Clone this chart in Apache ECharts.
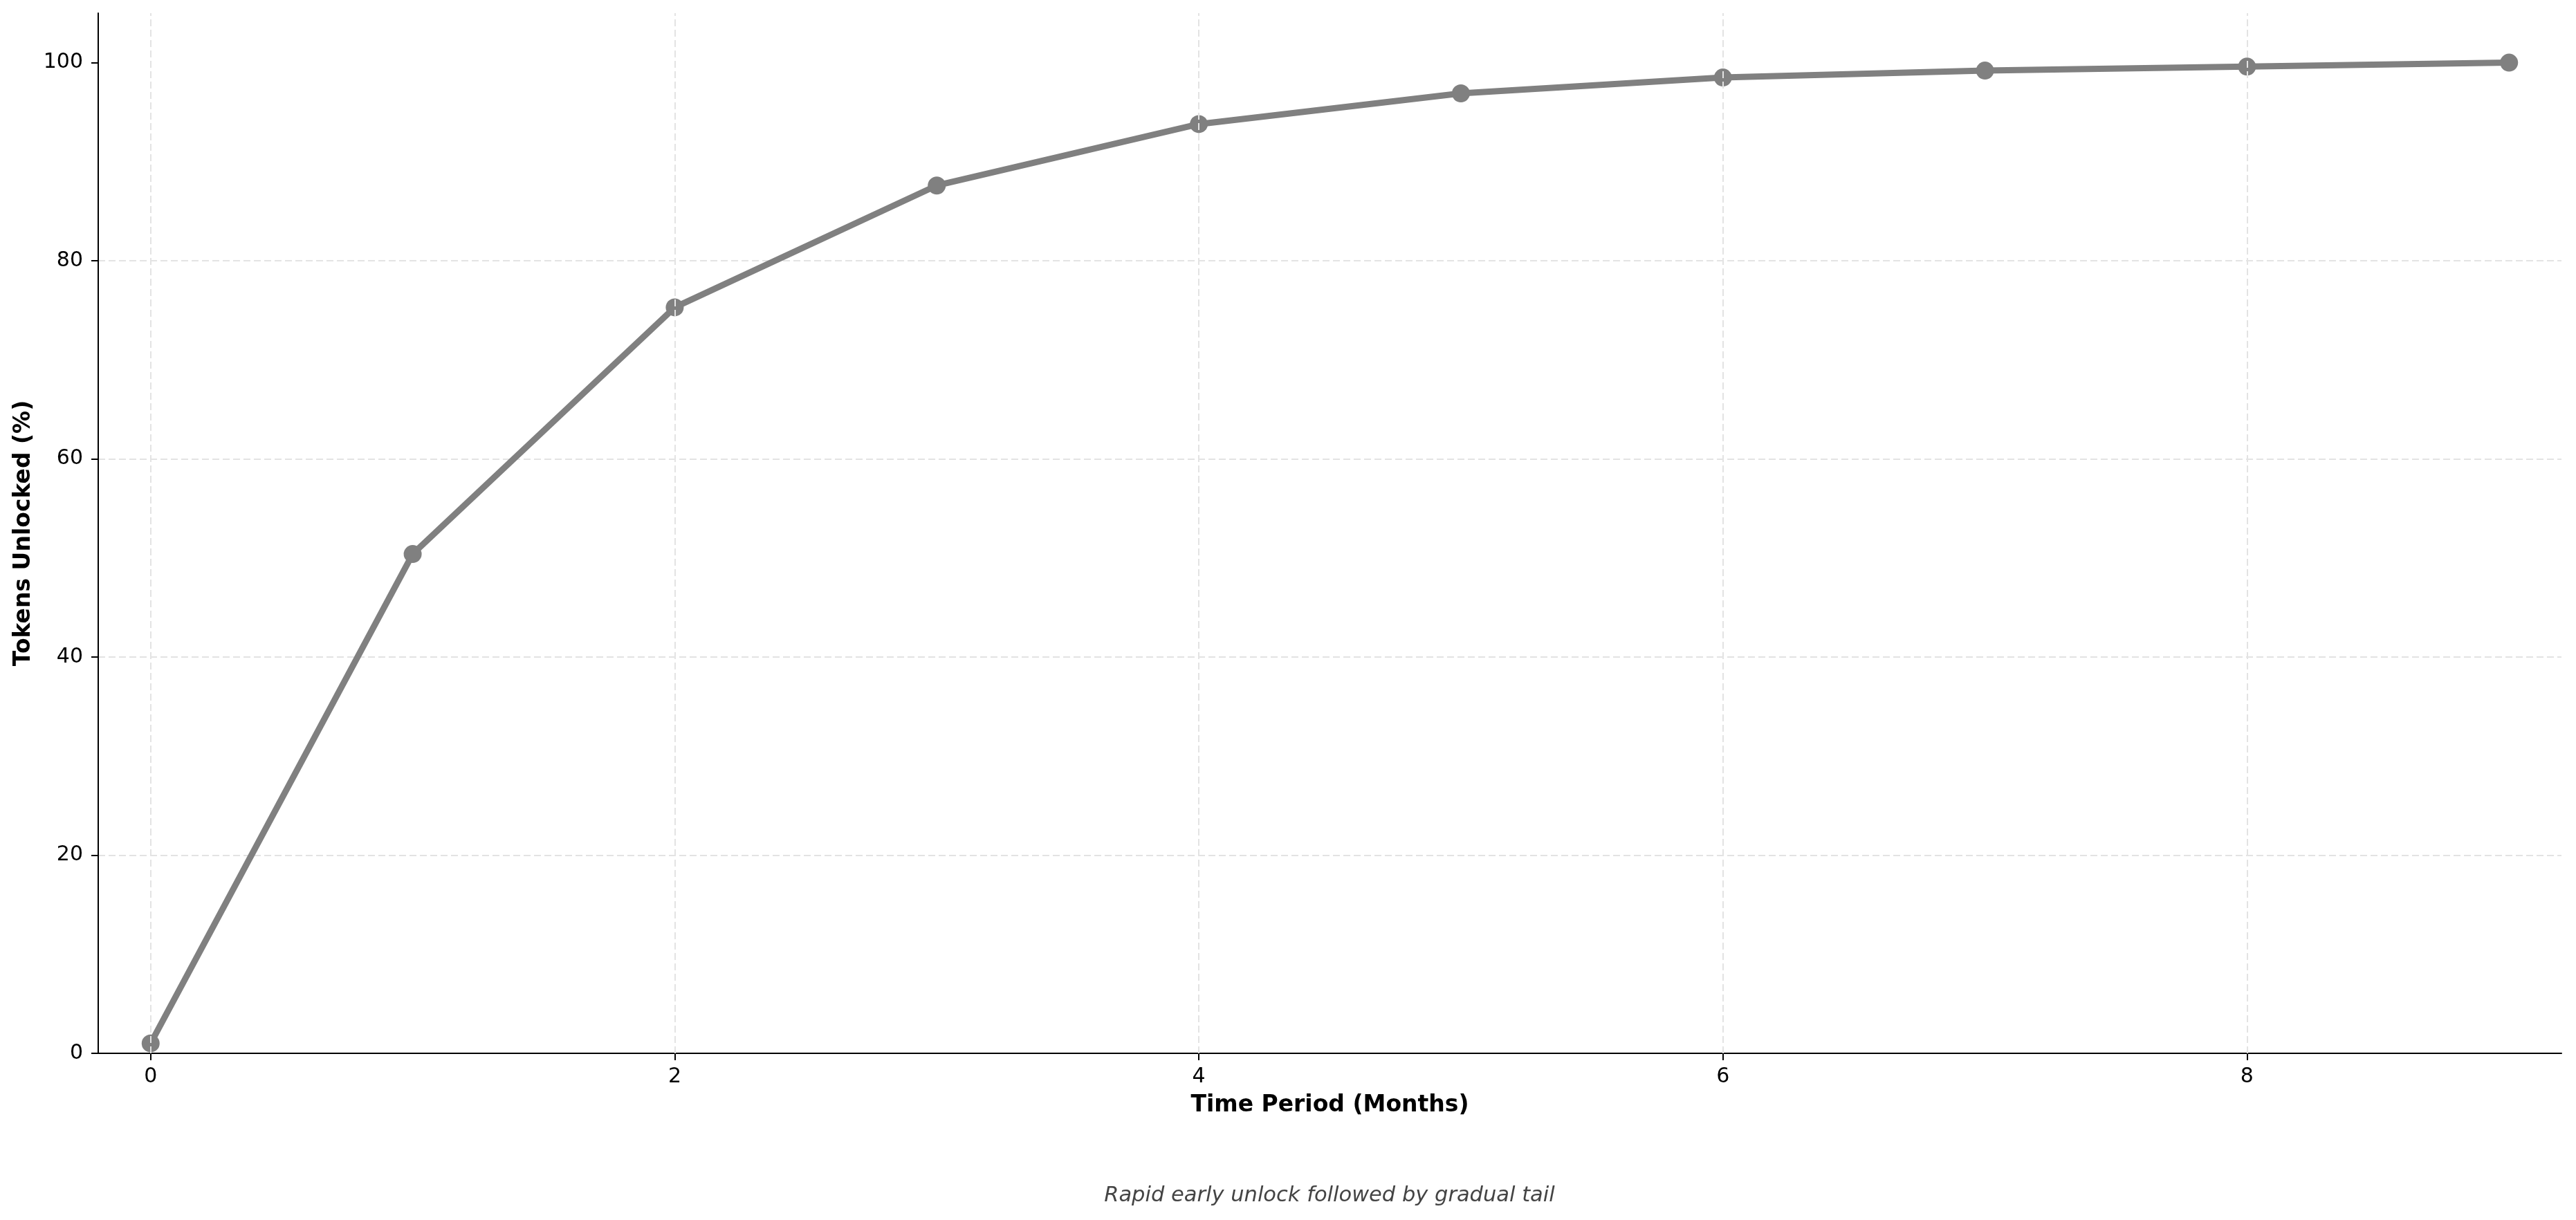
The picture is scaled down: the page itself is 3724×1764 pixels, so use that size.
<!DOCTYPE html>
<html>
<head>
<meta charset="utf-8">
<script src="https://cdn.jsdelivr.net/npm/echarts@6/dist/echarts.min.js"></script>
<style>
  html, body { margin: 0; padding: 0; background: #fff; }
  #chart { width: 3724px; height: 1764px; }
</style>
</head>
<body>
<div id="chart"></div>
<script>
// months since launch
const months = [0, 1, 2, 3, 4, 5, 6, 7, 8, 9];
// cumulative tokens unlocked (%)
const unlocked = [1.0, 50.4, 75.3, 87.6, 93.8, 96.9, 98.5, 99.2, 99.6, 100.0];
const xTicks = [0, 2, 4, 6, 8];
const yTicks = [0, 20, 40, 60, 80, 100];
const subtitle = "Rapid early unlock followed by gradual tail";

const font = "DejaVu Sans";
const gridStyle = { color: "#e3e3e3", width: 2, type: [10, 5] };
const chart = echarts.init(document.getElementById("chart"));

const option = {
  animation: false,
  backgroundColor: "#fff",
  grid: { left: 142, right: 21, top: 19, bottom: 241 },
  xAxis: {
    type: "value",
    min: -0.2,
    max: 9.2,
    name: "Time Period (Months)",
    nameLocation: "middle",
    nameGap: 59,
    nameTextStyle: { fontFamily: font, fontSize: 33, fontWeight: "bold", color: "#000" },
    axisLine: { show: true, onZero: false, lineStyle: { color: "#000", width: 2 } },
    axisTick: { show: true, inside: false, length: 10, customValues: xTicks, lineStyle: { color: "#000", width: 2 } },
    axisLabel: { customValues: xTicks, margin: 19, fontFamily: font, fontSize: 30, color: "#000" },
    splitLine: { show: false },
  },
  yAxis: {
    type: "value",
    min: 0,
    max: 105,
    interval: 20,
    name: "Tokens Unlocked (%)",
    nameLocation: "middle",
    nameGap: 91,
    nameRotate: 90,
    nameTextStyle: { fontFamily: font, fontSize: 33, fontWeight: "bold", color: "#000" },
    axisLine: { show: true, onZero: false, lineStyle: { color: "#000", width: 2 } },
    axisTick: { show: true, inside: false, length: 10, customValues: yTicks, lineStyle: { color: "#000", width: 2 } },
    axisLabel: { customValues: yTicks, margin: 22, fontFamily: font, fontSize: 30, color: "#000" },
    splitLine: { show: true, showMinLine: false, showMaxLine: false, lineStyle: gridStyle },
  },
  series: [
    {
      // vertical grid lines at the x tick positions
      type: "line",
      data: [],
      z: 1,
      silent: true,
      markLine: {
        silent: true,
        symbol: "none",
        label: { show: false },
        lineStyle: gridStyle,
        data: xTicks.map((t) => ({ xAxis: t })),
      },
    },
    {
      name: "Tokens Unlocked",
      type: "line",
      z: 3,
      data: months.map((m, i) => [m, unlocked[i]]),
      symbol: "circle",
      symbolSize: 26,
      lineStyle: { color: "#808080", width: 9 },
      itemStyle: { color: "#808080" },
    },
  ],
  graphic: [
    {
      type: "text",
      x: 1922,
      y: 1729,
      style: {
        text: subtitle,
        align: "center",
        verticalAlign: "middle",
        fontFamily: font,
        fontSize: 30.5,
        fontStyle: "italic",
        fill: "#444",
      },
    },
  ],
};

chart.setOption(option);
</script>
</body>
</html>
